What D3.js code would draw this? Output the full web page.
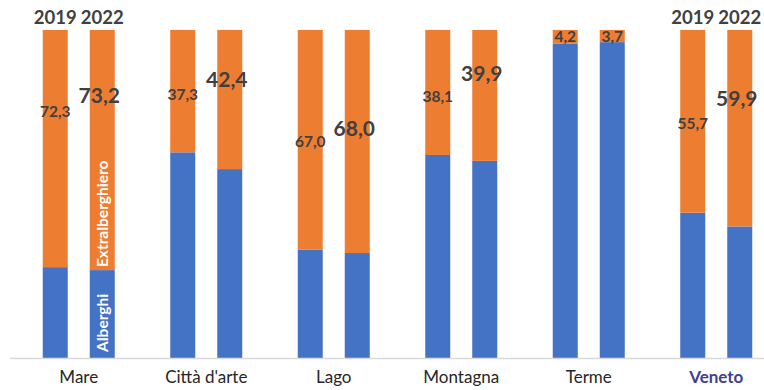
<!DOCTYPE html>
<html>
<head>
<meta charset="utf-8">
<script src="https://cdn.jsdelivr.net/npm/d3@7"></script>
<style>
  html, body { margin: 0; padding: 0; background: #ffffff; }
  svg { display: block; font-family: Lato, "Open Sans", sans-serif; }
</style>
</head>
<body>
<svg id="chart" width="764" height="390"></svg>
<script>
// ---- data ----
const categories = ["Mare", "Città d'arte", "Lago", "Montagna", "Terme", "Veneto"];
const years = ["2019", "2022"];
const seriesNames = ["Alberghi", "Extralberghiero"];
const alberghi2019 = [27.7, 62.7, 33.0, 61.9, 95.8, 44.3];
const alberghi2022 = [26.8, 57.6, 32.0, 60.1, 96.3, 40.1];
const extra2019 = [72.3, 37.3, 67.0, 38.1, 4.2, 55.7];
const extra2022 = [73.2, 42.4, 68.0, 39.9, 3.7, 59.9];

// ---- layout constants (label anchor levels, in value units) ----
const labelLevel2019 = [75.3, 80.5, 66.0, 79.9, 97.9, 71.5];
const labelLevel2022 = [80.2, 84.8, 70.0, 86.7, 98.1, 79.1];

const W = 764, H = 390;
const svg = d3.select("#chart");

const x0 = d3.scaleBand().domain(categories).range([15, 780]).padding(0);
const x1 = d3.scaleBand().domain(years).range([0, x0.bandwidth()])
  .paddingInner(0.468).paddingOuter(0.59);
const y = d3.scaleLinear().domain([0, 100]).range([358, 30]);

const colors = { "Alberghi": "#4472C4", "Extralberghiero": "#ED7D31" };
const textDark = "#404040";

const rows = [];
categories.forEach((c, i) => {
  rows.push({ cat: c, year: "2019", Alberghi: alberghi2019[i], Extralberghiero: extra2019[i], lvl: labelLevel2019[i] });
  rows.push({ cat: c, year: "2022", Alberghi: alberghi2022[i], Extralberghiero: extra2022[i], lvl: labelLevel2022[i] });
});

const stack = d3.stack().keys(seriesNames);
const stacked = stack(rows);

const gBars = svg.append("g");
stacked.forEach(layer => {
  gBars.selectAll(null)
    .data(layer)
    .join("rect")
    .attr("x", d => x0(d.data.cat) + x1(d.data.year))
    .attr("width", x1.bandwidth())
    .attr("y", d => y(d[1]))
    .attr("height", d => y(d[0]) - y(d[1]))
    .attr("fill", colors[layer.key]);
});

// axis line
svg.append("line")
  .attr("x1", 10).attr("x2", W)
  .attr("y1", y(0) + 0.5).attr("y2", y(0) + 0.5)
  .attr("stroke", "#d9d9d9").attr("stroke-width", 1.5);

// category axis
const axis = svg.append("g")
  .attr("transform", `translate(0,${y(0)})`)
  .call(d3.axisBottom(x0).tickSize(0).tickPadding(13));
axis.select(".domain").remove();
axis.selectAll("text")
  .attr("font-family", "Lato, 'Open Sans', sans-serif")
  .attr("font-size", 17)
  .attr("fill", d => d === "Veneto" ? "#403f92" : "#262626")
  .attr("font-weight", d => d === "Veneto" ? 700 : 400);

// value labels for Extralberghiero
const fmt = v => d3.format(".1f")(v).replace(".", ",");
const extraLayer = stacked[1];
svg.append("g").selectAll("text")
  .data(extraLayer)
  .join("text")
  .each(function(d) {
    const segH = y(d[0]) - y(d[1]);
    const big = d.data.year === "2022" && segH > 30;
    const cx = x0(d.data.cat) + x1(d.data.year) + x1.bandwidth() / 2 + (big ? -3 : 0);
    d3.select(this)
      .attr("x", cx)
      .attr("y", y(d.data.lvl))
      .attr("dy", "0.36em")
      .attr("text-anchor", "middle")
      .attr("font-weight", 700)
      .attr("font-size", big ? 21 : 15.5)
      .attr("fill", textDark)
      .text(fmt(d.data.Extralberghiero));
  });

// year labels over first and last group
const yearCats = [categories[0], categories[categories.length - 1]];
yearCats.forEach(c => {
  svg.append("g").selectAll("text")
    .data(years)
    .join("text")
    .attr("x", yr => x0(c) + x1(yr) + x1.bandwidth() / 2)
    .attr("y", 17)
    .attr("dy", "0.36em")
    .attr("text-anchor", "middle")
    .attr("font-weight", 700)
    .attr("font-size", 18.5)
    .attr("fill", textDark)
    .text(yr => yr);
});

// rotated series labels inside Mare 2022 bar
const mare22 = rows.find(r => r.cat === categories[0] && r.year === "2022");
const bx = x0(mare22.cat) + x1(mare22.year) + x1.bandwidth() / 2;
svg.append("text")
  .attr("transform", `translate(${bx},${y(0) - 6}) rotate(-90)`)
  .attr("dy", "0.36em")
  .attr("font-weight", 700).attr("font-size", 15.5)
  .attr("fill", "#ffffff")
  .text(seriesNames[0]);
svg.append("text")
  .attr("transform", `translate(${bx},${y(mare22.Alberghi) - 3}) rotate(-90)`)
  .attr("dy", "0.36em")
  .attr("font-weight", 700).attr("font-size", 15.5)
  .attr("fill", "#ffffff")
  .text(seriesNames[1]);
</script>
</body>
</html>
